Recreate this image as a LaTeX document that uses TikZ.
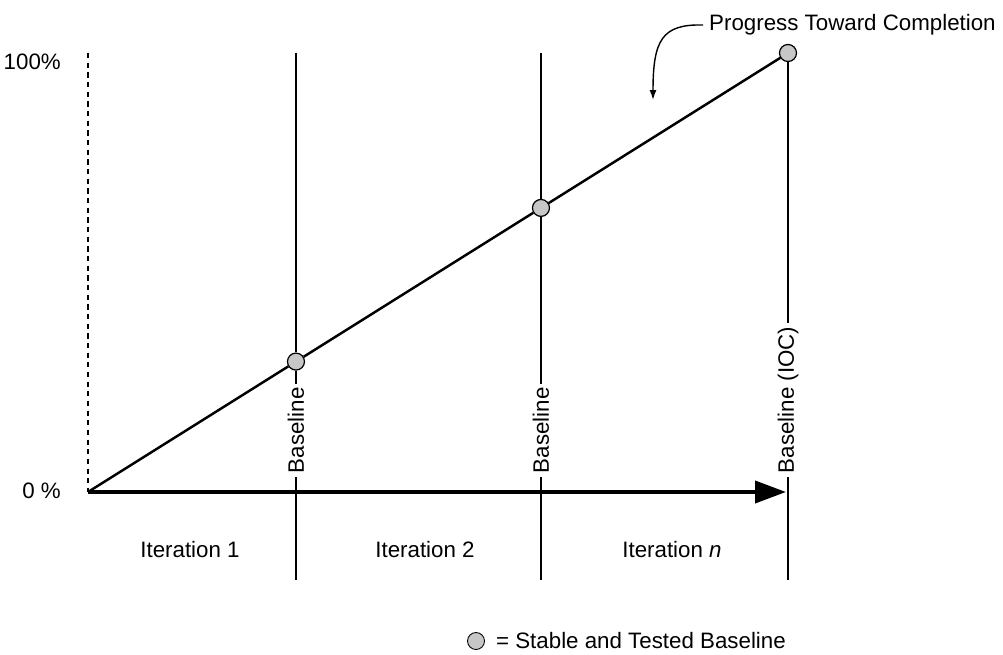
\documentclass[tikz,border=0pt]{standalone}
\usepackage{fontspec}
\setmainfont{Liberation Sans}
\usetikzlibrary{arrows.meta,positioning,calc}
\tikzstyle{line} = [draw, line width=1.4pt]
\tikzstyle{axis} = [draw, line width=2.2pt, -{Triangle[length=0.62cm, width=0.44cm]}]
\tikzstyle{baseline} = [draw, circle, fill=black!22, line width=0.7pt, minimum size=0.34cm, inner sep=0pt]
\tikzstyle{tag} = [rotate=90, anchor=west, fill=white, inner sep=2pt]

\begin{document}
\begin{tikzpicture}[x=0.02cm, y=-0.02cm, font=\fontsize{12.7}{15}\selectfont]
    \useasboundingbox (0,0) rectangle (1003,655);
    \coordinate (orig) at (88,492);
    \coordinate (full) at (88,53);
    \coordinate (tip) at (786,492);
    \coordinate (bot) at (88,580);
    \node [anchor=east] (pct100) at (67,62) {100\%};
    \node [anchor=east] (pct0) at (67,491) {0 \%};

    \node [baseline] (b3) at (788,53) {};
    \node [baseline] (b1) at ($(orig)!0.2971!(b3)$) {};
    \node [baseline] (b2) at ($(orig)!0.6471!(b3)$) {};
    \coordinate (t1) at (b1 |- full);
    \coordinate (t2) at (b2 |- full);
    \coordinate (e1) at (b1 |- bot);
    \coordinate (e2) at (b2 |- bot);
    \coordinate (e3) at (b3 |- bot);

    \path [draw, line width=0.6pt, dash pattern=on 3pt off 2.5pt] (full) -- (orig);
    \path [line] (t1) -- (b1) -- (e1);
    \path [line] (t2) -- (b2) -- (e2);
    \path [line] (b3) -- (e3);
    \path [line] (orig) -- (b1) -- (b2) -- (b3);
    \path [axis] (orig) -- (tip);

    \node [tag] (lab1) at (b1 |- 0,477) {Baseline};
    \node [tag] (lab2) at (b2 |- 0,477) {Baseline};
    \node [tag] (lab3) at (b3 |- 0,477) {Baseline (IOC)};

    \node (it1) at (190,550) {Iteration 1};
    \node (it2) at (425,550) {Iteration 2};
    \node (itn) at (672,550) {Iteration \textit{n}};

    \node [anchor=west] (prog) at (703,25) {Progress Toward Completion};
    \draw [line width=0.8pt, -{Latex[length=0.2cm, width=0.14cm]}] (prog.west) .. controls (662,24) and (653,40) .. (653,100);

    \node [baseline, line width=0.5pt] (key) at (476,641) {};
    \node [right=0.1cm of key] (keytext) {= Stable and Tested Baseline};
\end{tikzpicture}
\end{document}
